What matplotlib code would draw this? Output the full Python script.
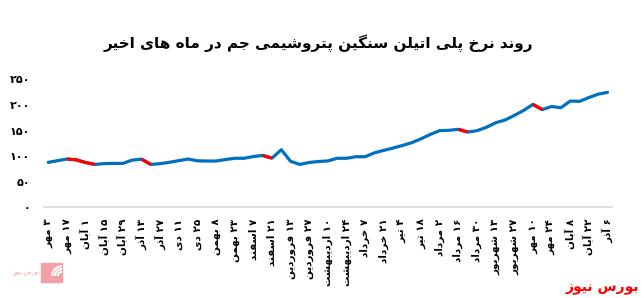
import numpy as np
import matplotlib.pyplot as plt
from matplotlib.patches import Rectangle, Arc

# weekly price values
values = [88, 91.3, 94.5, 93, 87.7, 84, 85.6, 86, 86, 92.4,
          94.3, 84, 85.5, 88.2, 91.3, 94.5, 91, 90.6, 90.6, 93.5,
          96, 96, 99.3, 101.5, 96.3, 112.7, 90, 84, 87.8, 89.7,
          90.8, 96, 96, 99, 99, 106.6, 111.4, 116, 121, 126.4,
          134, 142.6, 150, 150.5, 152.4, 147.2, 149.8, 156.3, 165.3, 170.5,
          179.5, 189.3, 201, 191, 197, 194.5, 207.6, 207, 214.4, 221.1,
          224.5]

# segments (start, end index) drawn in red
red_segments = [(2, 5), (10, 11), (23, 24), (44, 45), (52, 53)]

tick_labels = ["۳ مهر", "۱۷ مهر", "۱ آبان", "۱۵ آبان", "۲۹ آبان", "۱۳ آذر", "۲۷ آذر",
               "۱۱ دی", "۲۵ دی", "۸ بهمن", "۲۳ بهمن", "۷ اسفند", "۲۱ اسفند",
               "۱۳ فروردین", "۲۷ فروردین", "۱۰ اردیبهشت", "۲۴ اردیبهشت",
               "۷ خرداد", "۲۱ خرداد", "۴ تیر", "۱۸ تیر", "۲ مرداد", "۱۶ مرداد",
               "۳۰ مرداد", "۱۳ شهریور", "۲۷ شهریور", "۱۰ مهر", "۲۴ مهر",
               "۸ آبان", "۲۲ آبان", "۶ آذر"]

y_ticks = [0, 50, 100, 150, 200, 250]

title = "روند نرخ پلی اتیلن سنگین پتروشیمی جم در ماه های اخیر"
source = "بورس نیوز"

# contextual forms: isolated, final, initial, medial (right-joining letters have 2)
FORMS = {
    'ا': ('\uFE8D', '\uFE8E'), 'آ': ('\uFE81', '\uFE82'),
    'ب': ('\uFE8F', '\uFE90', '\uFE91', '\uFE92'),
    'پ': ('\uFB56', '\uFB57', '\uFB58', '\uFB59'),
    'ت': ('\uFE95', '\uFE96', '\uFE97', '\uFE98'),
    'ج': ('\uFE9D', '\uFE9E', '\uFE9F', '\uFEA0'),
    'خ': ('\uFEA5', '\uFEA6', '\uFEA7', '\uFEA8'),
    'د': ('\uFEA9', '\uFEAA'), 'ذ': ('\uFEAB', '\uFEAC'),
    'ر': ('\uFEAD', '\uFEAE'), 'ز': ('\uFEAF', '\uFEB0'),
    'س': ('\uFEB1', '\uFEB2', '\uFEB3', '\uFEB4'),
    'ش': ('\uFEB5', '\uFEB6', '\uFEB7', '\uFEB8'),
    'ف': ('\uFED1', '\uFED2', '\uFED3', '\uFED4'),
    'گ': ('\uFB92', '\uFB93', '\uFB94', '\uFB95'),
    'ل': ('\uFEDD', '\uFEDE', '\uFEDF', '\uFEE0'),
    'م': ('\uFEE1', '\uFEE2', '\uFEE3', '\uFEE4'),
    'ن': ('\uFEE5', '\uFEE6', '\uFEE7', '\uFEE8'),
    'ه': ('\uFEE9', '\uFEEA', '\uFEEB', '\uFEEC'),
    'و': ('\uFEED', '\uFEEE'),
    'ی': ('\uFBFC', '\uFBFD', '\uFBFE', '\uFBFF'),
}


def shape(text):
    # pick joined letter forms, then lay out right to left (digit runs stay LTR)
    out = []
    for i, ch in enumerate(text):
        if ch not in FORMS:
            out.append(ch)
            continue
        prev = text[i - 1] if i > 0 else ''
        nxt = text[i + 1] if i + 1 < len(text) else ''
        join_prev = prev in FORMS and len(FORMS[prev]) == 4
        join_next = len(FORMS[ch]) == 4 and nxt in FORMS
        f = FORMS[ch]
        if join_prev and join_next:
            out.append(f[3])
        elif join_prev:
            out.append(f[1])
        elif join_next:
            out.append(f[2])
        else:
            out.append(f[0])
    runs = []
    for ch in out:
        if ch.isdigit() and runs and runs[-1][0].isdigit():
            runs[-1] += ch
        else:
            runs.append(ch)
    return ''.join(reversed(runs))


def fa_num(n):
    return str(n).translate(str.maketrans('0123456789', '۰۱۲۳۴۵۶۷۸۹'))


plt.rcParams['font.family'] = ['DejaVu Sans']

fig = plt.figure(figsize=(6.44, 2.98), dpi=100)
ax = fig.add_axes([0.0683, 0.3037, 0.8817, 0.4302])

x = np.arange(len(values))
ax.plot(x, values, color='#0070C0', lw=2.3, solid_joinstyle='round', solid_capstyle='round')
for a, b in red_segments:
    ax.plot(x[a:b + 1], values[a:b + 1], color='#FF0000', lw=2.3,
            solid_joinstyle='round', solid_capstyle='butt')

ax.set_xlim(-0.46, len(values) - 1 + 0.46)
ax.set_ylim(0, 250)

ax.set_xticks(x[::2])
ax.set_xticklabels([shape(t) for t in tick_labels], rotation=90, fontsize=7.5,
                   fontweight='bold', va='top')
ax.set_yticks(y_ticks)
ax.set_yticklabels([fa_num(v) for v in y_ticks], fontsize=8, fontweight='bold')
ax.tick_params(axis='both', length=0)
ax.tick_params(axis='x', pad=8)
ax.tick_params(axis='y', pad=10)

for s in ['top', 'right', 'left']:
    ax.spines[s].set_visible(False)
ax.spines['bottom'].set_color('#d9d9d9')
ax.spines['bottom'].set_linewidth(1.2)

fig.text(0.495, 0.855, shape(title), ha='center', va='center', fontsize=11, fontweight='bold')
fig.text(0.993, 0.035, shape(source), ha='right', va='center', fontsize=10,
         fontweight='bold', color='#FF0000')

# faint logo bottom-left
lx, ly = 41 / 644, (298 - 282) / 298
fig.patches.append(Rectangle((lx, ly), 21 / 644, 19 / 298, transform=fig.transFigure,
                             color='#F2A0A6', zorder=0))
for r in [0.6, 1.0, 1.4]:
    fig.patches.append(Arc((lx + 21 / 644, ly + 6 / 298), r * 14 / 644, r * 14 / 298,
                           theta1=90, theta2=180, transform=fig.transFigure,
                           color='white', lw=1.5))
fig.text(lx - 1 / 644, ly + 8 / 298, shape(source), ha='right', va='center', fontsize=4.5,
         color='#F2A0A6')

fig.savefig('out.png', dpi=100)
